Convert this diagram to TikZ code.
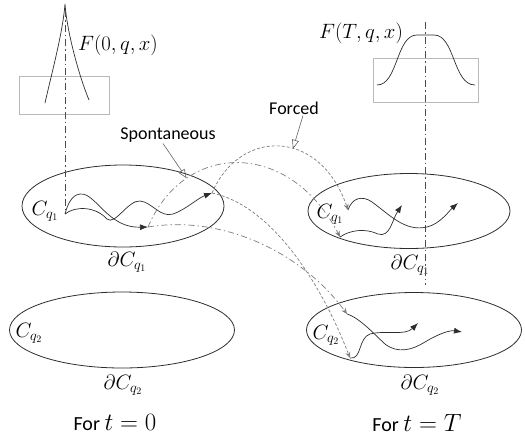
\documentclass[tikz,border=0pt]{standalone}
\usepackage{fontspec}
\setmainfont{Carlito}
\usetikzlibrary{shapes.geometric, arrows.meta, positioning}
\definecolor{ink}{RGB}{45,45,45}
\definecolor{link}{RGB}{125,125,125}
\definecolor{frame}{RGB}{185,185,185}

\begin{document}
\begin{tikzpicture}[
  x=1pt, y=-1pt,
  every node/.style={inner sep=1pt},
  region/.style={ellipse, draw=ink, line width=0.8pt, inner sep=0pt},
  mlabel/.style={font=\fontsize{20}{24}\selectfont},
  tlabel/.style={font=\fontsize{18}{22}\selectfont},
  timelabel/.style={font=\fontsize{20}{24}\selectfont},
  plotbox/.style={rectangle, draw=frame, line width=0.7pt, inner sep=0pt},
  axisline/.style={ink!85, line width=0.6pt, dash pattern=on 7pt off 3pt on 1.5pt off 3pt},
  curve/.style={ink, line width=0.7pt},
  walk/.style={ink, line width=0.7pt, -{Latex[length=8pt,width=6pt]}},
  spont/.style={link, line width=0.7pt, dash pattern=on 6pt off 3pt on 1.5pt off 3pt, -{Stealth[length=6pt,width=5pt]}},
  forced/.style={link, line width=0.7pt, dash pattern=on 3pt off 2pt, -{Stealth[length=6pt,width=5pt]}},
  note/.style={link!80!black, line width=0.6pt, -{Triangle[open,length=9pt,width=7pt]}},
]
\useasboundingbox (0,0) rectangle (525,440);

%% Regions
\node[region, minimum width=202pt, minimum height=82pt] (L1) at (123,206) {};
\node[region, minimum width=225pt, minimum height=76pt] (L2) at (122,330) {};
\node[region, minimum width=202pt, minimum height=75pt] (R1) at (409,211) {};
\node[region, minimum width=215pt, minimum height=75pt] (R2) at (414,330) {};

\node[mlabel] (cL1) at (45,211) {$C_{q_1}$};
\node[mlabel] (dL1) at (127,262) {$\partial C_{q_1}$};
\node[mlabel] (cL2) at (29,333) {$C_{q_2}$};
\node[mlabel] (dL2) at (123,385) {$\partial C_{q_2}$};
\node[mlabel] (cR1) at (330,214) {$C_{q_1}$};
\node[mlabel] (dR1) at (410,265) {$\partial C_{q_1}$};
\node[mlabel] (cR2) at (326,335) {$C_{q_2}$};
\node[mlabel] (dR2) at (420,385) {$\partial C_{q_2}$};

%% Distributions
\node[plotbox, minimum width=90pt, minimum height=38pt] (box0) at (64,95) {};
\node[plotbox, minimum width=105pt, minimum height=44pt] (boxT) at (425.5,80) {};
\node[mlabel] (F0) at (118,45) {$F(0,q,x)$};
\node[mlabel] (FT) at (361,33) {$F(T,q,x)$};

\draw[curve] (45,103) .. controls (51,76) and (63,32) .. (65,4) .. controls (67,32) and (79,76) .. (89,100);
\draw[curve] (377,85) .. controls (398,85) and (396,35) .. (417,35) -- (434,35) .. controls (455,35) and (453,85) .. (475,85);

%% Points
\coordinate (top0) at (65,10);
\coordinate (topT) at (425,22);
\coordinate (botT) at (425,285);
\coordinate (s1) at (65,214);
\coordinate (a1) at (148,227);
\coordinate (a2) at (212,193);
\coordinate (b1) at (348,210);
\coordinate (b2) at (340,237);
\coordinate (b3) at (347,314);
\coordinate (b4) at (350,358);
\coordinate (e1) at (458,203);
\coordinate (e2) at (402,205);
\coordinate (e3) at (462,332);
\coordinate (e4) at (418,323);

\draw[axisline] (top0) -- (s1);
\draw[axisline] (topT) -- (botT);

%% Walks at t=0
\draw[walk] (s1) .. controls (70,195) and (78,192) .. (86,195) .. controls (100,202) and (112,228) .. (a1);
\draw[walk] (s1) .. controls (75,206) and (95,206) .. (107,219) .. controls (115,226) and (128,200) .. (140,201) .. controls (152,202) and (160,218) .. (173,214) .. controls (185,210) and (198,198) .. (a2);

%% Walks at t=T
\draw[walk] (b1) .. controls (352,198) and (362,195) .. (372,202) .. controls (390,215) and (405,232) .. (427,227) .. controls (440,224) and (450,210) .. (e1);
\draw[walk] (b2) .. controls (350,230) and (365,228) .. (378,234) .. controls (390,238) and (392,220) .. (e2);
\draw[walk] (b3) .. controls (360,318) and (375,335) .. (385,344) .. controls (398,354) and (412,350) .. (425,342) .. controls (438,334) and (450,330) .. (e3);
\draw[walk] (b4) .. controls (362,360) and (358,338) .. (370,334) .. controls (385,330) and (405,336) .. (e4);

%% Transitions
\draw[spont] (a1) .. controls (185,140) and (290,140) .. coordinate[pos=0.25] (sp) (b2);
\draw[spont] (a1) .. controls (220,215) and (300,250) .. (b3);
\draw[forced] (a2) .. controls (240,128) and (320,128) .. coordinate[pos=0.58] (fp) (b1);
\draw[forced] (a2) .. controls (270,205) and (320,280) .. (b4);

\node[tlabel] (spl) at (168,135) {Spontaneous};
\node[tlabel] (fol) at (294,108) {Forced};
\draw[note] ([xshift=-5pt]spl.south) -- (sp);
\draw[note] ([xshift=9pt]fol.south) -- (fp);

%% Time labels
\node[timelabel] (t0) at (115,423) {For {\fontsize{24}{28}\selectfont $t=0$}};
\node[timelabel] (tT) at (417,423) {For {\fontsize{24}{28}\selectfont $t=T$}};

\end{tikzpicture}
\end{document}
